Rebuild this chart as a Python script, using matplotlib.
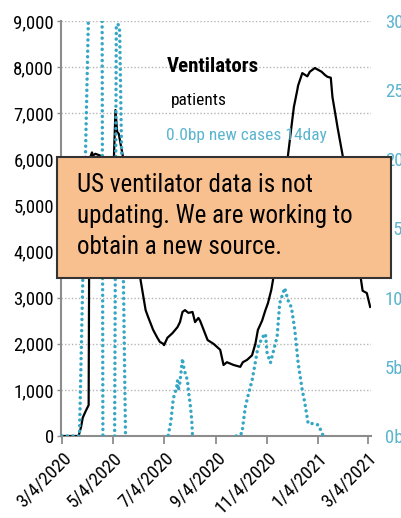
import numpy as np
import matplotlib
matplotlib.use("Agg")
from matplotlib import pyplot as plt
from matplotlib import patches
import matplotlib.dates as mdates

FONT = ['Roboto Condensed', 'DejaVu Sans']
plt.rcParams['font.family'] = FONT

start = np.datetime64('2020-03-04')

# ventilator patients (days after 3/4/2020, value)
vent_days = [0, 20, 23, 25, 29, 32, 33, 36, 37, 40, 46, 50, 62, 63, 64, 66, 68, 70, 73,
             94, 100, 103, 109, 114, 117, 121, 122, 126, 132, 138, 141, 144, 147, 151,
             156, 159, 163, 165, 174, 181, 189, 193, 197, 205, 213, 216, 221, 227, 231,
             234, 239, 243, 246, 250, 252, 270, 275, 277, 281, 282, 287, 293, 296, 302,
             306, 310, 314, 317, 321, 323, 327, 329, 335, 359, 364, 368]
vent_vals = [0, 0, 200, 400, 560, 670, 6000, 6150, 6080, 6120, 6080, 5900, 5950, 6500, 7070,
             6600, 6550, 6350, 6050, 3380, 2730, 2580, 2300, 2130, 2040, 2000, 1970, 2130,
             2230, 2360, 2470, 2690, 2730, 2670, 2690, 2470, 2560, 2500, 2080, 2000, 1870,
             1540, 1600, 1540, 1500, 1600, 1650, 1750, 2000, 2300, 2500, 2730, 2880, 3170,
             3380, 6100, 6850, 7140, 7500, 7600, 7870, 7800, 7900, 7980, 7940, 7900, 7830,
             7790, 7770, 7350, 6920, 6700, 6100, 3150, 3100, 2800]

# new cases 14day (right axis), nan = missing data
case_days = [0, 20, 21, 32, 40, 48, 49, 50,
             63, 65, 67, 69, 72, 76, 77,
             127, 130, 132, 133, 137, 138, 139, 141, 144, 145, 147, 150, 151, 153, 155, 156, 157,
             208, 215, 217, 219, 223, 227, 230, 234, 239, 243, 245, 249, 252, 257, 260, 266,
             270, 274, 278, 282, 287, 290, 294, 300, 306, 310, 312]
case_vals = [0, 0, 0, 31, 45, 33, 0, np.nan,
             0, 29.6, 29.8, 29.3, 18, 0, np.nan,
             0.05, 1.0, 2.1, 2.7, 3.5, 4.0, 3.3, 3.9, 5.6, 5.1, 4.6, 4.0, 3.3, 2.4, 1.2, 0, np.nan,
             0, 0.2, 1.2, 2.1, 3.1, 4.0, 5.0, 6.4, 7.1, 7.4, 6.0, 5.3, 6.0, 7.2, 9.6, 10.7,
             9.8, 9.3, 7.7, 5.3, 3.3, 2.4, 0.9, 0.9, 0.8, 0.3, 0]

tick_dates = ['2020-03-04', '2020-05-04', '2020-07-04', '2020-09-04', '2020-11-04',
              '2021-01-04', '2021-03-04']
tick_labels = ['3/4/2020', '5/4/2020', '7/4/2020', '9/4/2020', '11/4/2020',
               '1/4/2021', '3/4/2021']
left_ticks = [0, 1000, 2000, 3000, 4000, 5000, 6000, 7000, 8000, 9000]
right_ticks = [0, 5, 10, 15, 20, 25, 30]

note = "US ventilator data is not\nupdating. We are working to\nobtain a new source."

BLUE = '#35a6c3'
BLUE_TXT = '#5bb5cf'
GRAY = '#8c8c8c'

vx = start + np.array(vent_days).astype('timedelta64[D]')
cx = start + np.array(case_days).astype('timedelta64[D]')

fig = plt.figure(figsize=(4.01, 5.18), dpi=100)
ax = fig.add_axes([61 / 401, 1 - 436 / 518, 310 / 401, 415 / 518])
ax2 = ax.twinx()

ax.plot(vx, vent_vals, color='black', lw=1.6, zorder=3)
ax2.plot(cx, case_vals, color=BLUE, lw=2.5, linestyle=(0, (0.01, 1.6)),
         dash_capstyle='round', zorder=3)

ax.set_ylim(0, 9000)
ax2.set_ylim(0, 30)
ax.set_xlim(np.datetime64('2020-03-03'), np.datetime64('2021-03-08'))

ax.set_yticks(left_ticks)
ax.set_yticklabels([f"{v:,}" for v in left_ticks], fontsize=13.5)
ax.yaxis.grid(True, linestyle=(0, (1, 1.5)), color='#b5b5b5', lw=1)
ax.set_axisbelow(True)

ax.set_xticks([mdates.datestr2num(d) for d in tick_dates])
ax.set_xticklabels(tick_labels, rotation=45, ha='right', rotation_mode='anchor', fontsize=13.5)

ax2.set_yticks(right_ticks)
ax2.set_yticklabels([f"{v}bp" for v in right_ticks], fontsize=13.5, color=BLUE_TXT)
ax2.tick_params(axis='y', length=0, pad=10)

for a in (ax, ax2):
    a.spines['top'].set_visible(False)
    a.spines['right'].set_visible(False)
ax2.spines['left'].set_visible(False)
ax2.spines['bottom'].set_visible(False)
ax.spines['left'].set_color(GRAY)
ax.spines['bottom'].set_color(GRAY)
ax.spines['left'].set_linewidth(1.5)
ax.spines['bottom'].set_linewidth(1.5)
ax.tick_params(axis='x', length=6, width=1.3, color=GRAY, pad=3)
ax.tick_params(axis='y', length=3, width=1, color=GRAY, pad=2)

fig.text(167 / 401, 1 - 72 / 518, "Ventilators", fontsize=15, fontweight='bold')
fig.text(171 / 401, 1 - 105 / 518, "patients", fontsize=12.5)
fig.text(166 / 401, 1 - 140 / 518, "0.0bp new cases 14day", fontsize=12.5, color=BLUE_TXT)

fig.patches.append(patches.Rectangle((57 / 401, 1 - 278 / 518), 334 / 401, 121 / 518,
                                     transform=fig.transFigure, facecolor='#f9c08f',
                                     edgecolor='#333333', lw=1.5, zorder=5))
fig.text(77 / 401, 1 - 173 / 518, note, fontsize=18, va='top', linespacing=1.36,
         zorder=6)

fig.savefig("out.png", dpi=100)
